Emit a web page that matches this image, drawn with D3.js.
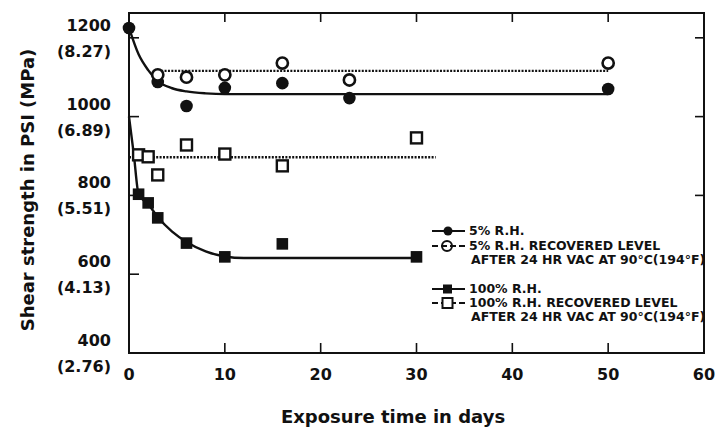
<!DOCTYPE html>
<html>
<head>
<meta charset="utf-8">
<script src="https://cdn.jsdelivr.net/npm/d3@7"></script>
<style>
  html, body { margin: 0; padding: 0; background: #fff; }
  svg { display: block; }
  text { font-family: "DejaVu Sans", sans-serif; font-weight: bold; fill: #111; }
</style>
</head>
<body>
<svg id="chart" width="717" height="428"></svg>
<script>
// Shear strength vs. exposure time, 5% and 100% relative humidity

// 5% R.H. measurements
const rh5Days   = [0, 3, 6, 10, 16, 23, 50];
const rh5Psi    = [1225, 1088, 1027, 1073, 1085, 1047, 1070];
// fitted trend through the 5% R.H. data
const rh5FitDays = [0, 1, 2, 3, 4.5, 6, 8, 10, 50];
const rh5FitPsi  = [1225, 1158, 1118, 1090, 1072, 1064, 1059, 1057, 1057];

// 5% R.H. recovered after 24 hr vacuum at 90°C
const rec5Days  = [3, 6, 10, 16, 23, 50];
const rec5Psi   = [1106, 1100, 1106, 1136, 1093, 1136];
const rec5LevelDays = [3, 50];
const rec5LevelPsi  = [1116, 1116];

// 100% R.H. measurements
const rh100Days = [1, 2, 3, 6, 10, 16, 30];
const rh100Psi  = [803, 781, 743, 679, 644, 677, 644];
const rh100FitDays = [0, 0.5, 1, 2, 3, 4.5, 6, 8, 10, 12, 30];
const rh100FitPsi  = [1000, 905, 803, 778, 745, 708, 682, 658, 645, 641, 641];

// 100% R.H. recovered after 24 hr vacuum at 90°C
const rec100Days = [1, 2, 3, 6, 10, 16, 30];
const rec100Psi  = [903, 898, 852, 928, 905, 875, 946];
const rec100LevelDays = [0, 32];
const rec100LevelPsi  = [897, 897];

// axis ticks
const xTicks = [0, 10, 20, 30, 40, 50, 60];
const yTicks = [400, 600, 800, 1000, 1200];
const yTickMpa = ["(2.76)", "(4.13)", "(5.51)", "(6.89)", "(8.27)"];

// legend entries
const legendLabels = [
  ["5% R.H."],
  ["5% R.H. RECOVERED LEVEL", "AFTER 24 HR VAC AT 90°C(194°F)"],
  ["100% R.H."],
  ["100% R.H. RECOVERED LEVEL", "AFTER 24 HR VAC AT 90°C(194°F)"]
];

const ink = "#111";
const svg = d3.select("#chart");

const x = d3.scaleLinear().domain([0, 60]).range([129, 704]);
const y = d3.scaleLinear().domain([400, 1263]).range([353, 13]);

const zip = (a, b) => a.map((d, i) => [d, b[i]]);

// frame
svg.append("rect")
  .attr("x", x(0)).attr("y", y.range()[1])
  .attr("width", x(60) - x(0)).attr("height", y(400) - y.range()[1])
  .attr("fill", "none").attr("stroke", ink).attr("stroke-width", 2);

// inward ticks on all four sides
const inner = xTicks.filter(d => d > 0 && d < 60);
svg.append("g").selectAll("line").data(inner).join("line")
  .attr("x1", d => x(d)).attr("x2", d => x(d))
  .attr("y1", y(400)).attr("y2", y(400) - 10)
  .attr("stroke", ink).attr("stroke-width", 1.6);
svg.append("g").selectAll("line").data(inner).join("line")
  .attr("x1", d => x(d)).attr("x2", d => x(d))
  .attr("y1", y.range()[1]).attr("y2", y.range()[1] + 9)
  .attr("stroke", ink).attr("stroke-width", 1.6);
svg.append("g").selectAll("line").data(yTicks.filter(d => d > 400)).join("line")
  .attr("x1", x(0)).attr("x2", x(0) + 10)
  .attr("y1", d => y(d)).attr("y2", d => y(d))
  .attr("stroke", ink).attr("stroke-width", 1.6);
svg.append("g").selectAll("line").data(yTicks.filter(d => d > 700)).join("line")
  .attr("x1", x(60)).attr("x2", x(60) - 9)
  .attr("y1", d => y(d)).attr("y2", d => y(d))
  .attr("stroke", ink).attr("stroke-width", 1.6);

// tick labels
svg.append("g").selectAll("text").data(xTicks).join("text")
  .attr("x", d => x(d)).attr("y", 380)
  .attr("text-anchor", "middle").style("font-size", "16px")
  .text(d => d);
const yl = svg.append("g").selectAll("g").data(yTicks).join("g");
yl.append("text")
  .attr("x", 111).attr("y", d => y(d) - 7)
  .attr("text-anchor", "end").style("font-size", "16px")
  .text(d => d);
yl.append("text")
  .attr("x", 111).attr("y", (d, i) => y(d) + 19)
  .attr("text-anchor", "end").style("font-size", "16px")
  .text((d, i) => yTickMpa[i]);

// axis titles
svg.append("text")
  .attr("x", 393).attr("y", 423).attr("text-anchor", "middle")
  .style("font-size", "18px").text("Exposure time in days");
svg.append("text")
  .attr("transform", "translate(34,190) rotate(-90)")
  .attr("text-anchor", "middle")
  .style("font-size", "18px").text("Shear strength in PSI (MPa)");

const line = d3.line().x(d => x(d[0])).y(d => y(d[1]));
const smooth = d3.line().x(d => x(d[0])).y(d => y(d[1])).curve(d3.curveMonotoneX);

// recovered levels (dotted)
svg.append("path").datum(zip(rec5LevelDays, rec5LevelPsi))
  .attr("d", line).attr("fill", "none").attr("stroke", ink)
  .attr("stroke-width", 2.4).attr("stroke-dasharray", "2,1.4");
svg.append("path").datum(zip(rec100LevelDays, rec100LevelPsi))
  .attr("d", line).attr("fill", "none").attr("stroke", ink)
  .attr("stroke-width", 2.4).attr("stroke-dasharray", "2,1.4");

// fitted trends
svg.append("path").datum(zip(rh5FitDays, rh5FitPsi))
  .attr("d", smooth).attr("fill", "none").attr("stroke", ink).attr("stroke-width", 2.4);
svg.append("path").datum(zip(rh100FitDays, rh100FitPsi))
  .attr("d", smooth).attr("fill", "none").attr("stroke", ink).attr("stroke-width", 2.4);

// markers
svg.append("g").selectAll("circle").data(zip(rh5Days, rh5Psi)).join("circle")
  .attr("cx", d => x(d[0])).attr("cy", d => y(d[1])).attr("r", 6.3)
  .attr("fill", ink);
svg.append("g").selectAll("circle").data(zip(rec5Days, rec5Psi)).join("circle")
  .attr("cx", d => x(d[0])).attr("cy", d => y(d[1])).attr("r", 5.6)
  .attr("fill", "#fff").attr("stroke", ink).attr("stroke-width", 2.6);
svg.append("g").selectAll("rect").data(zip(rh100Days, rh100Psi)).join("rect")
  .attr("x", d => x(d[0]) - 5.8).attr("y", d => y(d[1]) - 5.8)
  .attr("width", 11.6).attr("height", 11.6).attr("fill", ink);
svg.append("g").selectAll("rect").data(zip(rec100Days, rec100Psi)).join("rect")
  .attr("x", d => x(d[0]) - 5.5).attr("y", d => y(d[1]) - 5.5)
  .attr("width", 11).attr("height", 11)
  .attr("fill", "#fff").attr("stroke", ink).attr("stroke-width", 2.4);

// legend
const lg = svg.append("g");
const rowY = [231, 246, 289, 303];
const lineH = 14;
legendLabels.forEach((lines, i) => {
  const cy = rowY[i];
  const dashed = i % 2 === 1;
  lg.append("line")
    .attr("x1", 432).attr("x2", 465).attr("y1", cy).attr("y2", cy)
    .attr("stroke", ink).attr("stroke-width", 2)
    .attr("stroke-dasharray", dashed ? "6,3" : null);
  if (i === 0) {
    lg.append("circle").attr("cx", 448).attr("cy", cy).attr("r", 4.5).attr("fill", ink);
  } else if (i === 1) {
    lg.append("circle").attr("cx", 447).attr("cy", cy).attr("r", 5)
      .attr("fill", "none").attr("stroke", ink).attr("stroke-width", 2);
  } else if (i === 2) {
    lg.append("rect").attr("x", 443).attr("y", cy - 4.5).attr("width", 9).attr("height", 9).attr("fill", ink);
  } else {
    lg.append("rect").attr("x", 442.5).attr("y", cy - 5).attr("width", 10).attr("height", 10)
      .attr("fill", "#fff").attr("stroke", ink).attr("stroke-width", 2);
  }
  lines.forEach((t, j) => {
    lg.append("text")
      .attr("x", 469 + (j ? 2 : 0)).attr("y", cy + 4 + j * lineH)
      .style("font-size", "12.5px")
      .text(t);
  });
});
</script>
</body>
</html>
